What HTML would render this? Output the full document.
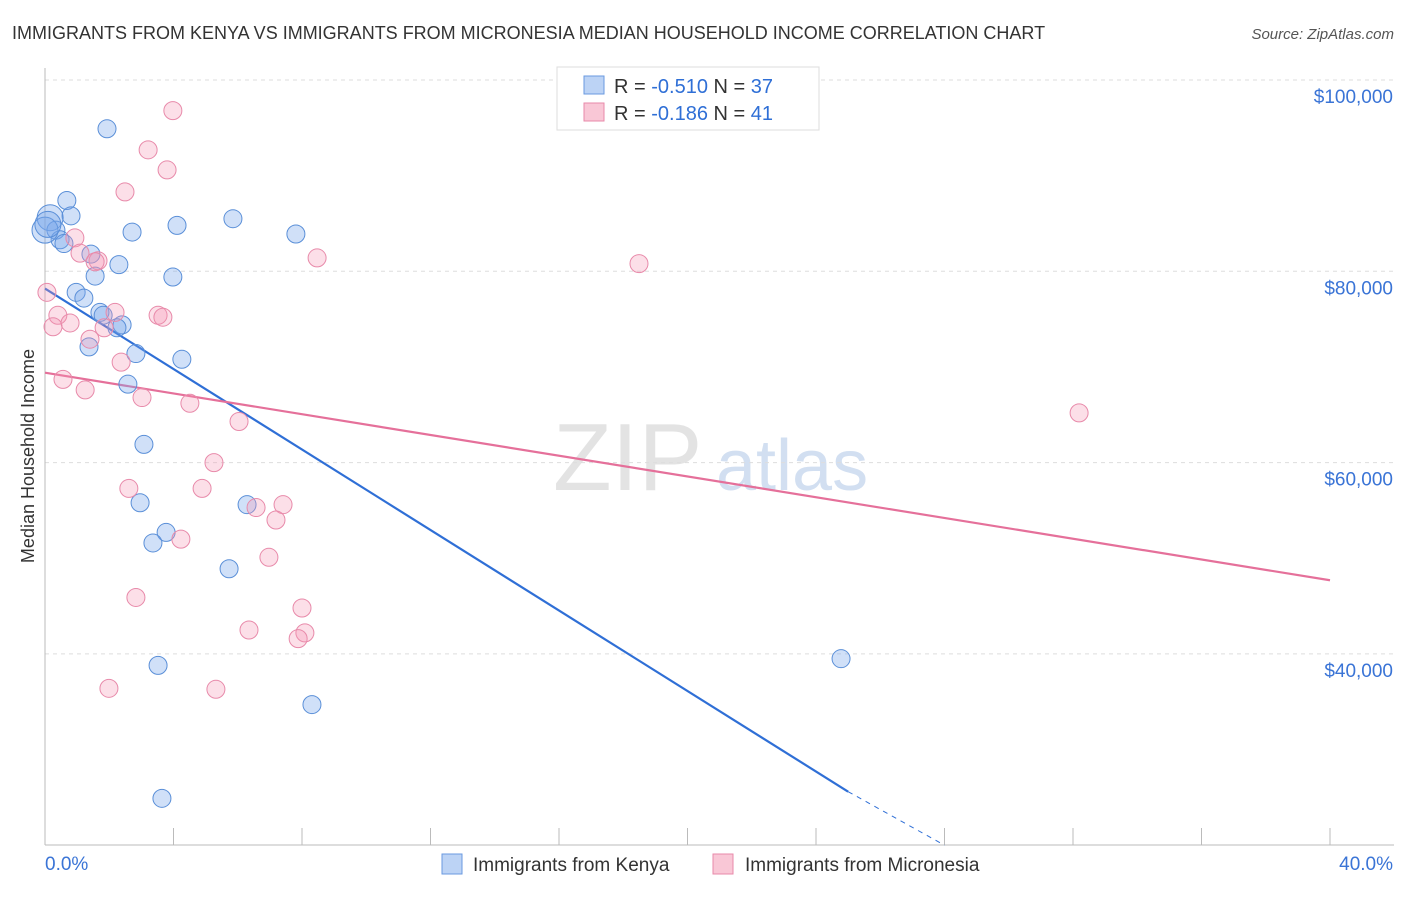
<!DOCTYPE html>
<html><head><meta charset="utf-8"><style>
body{margin:0;background:#fff;font-family:"Liberation Sans",sans-serif}
svg text{font-family:"Liberation Sans",sans-serif}
</style></head><body>
<svg id="chart" width="1406" height="892" xmlns="http://www.w3.org/2000/svg">
<text x="12" y="39" font-size="18" fill="#333">IMMIGRANTS FROM KENYA VS IMMIGRANTS FROM MICRONESIA MEDIAN HOUSEHOLD INCOME CORRELATION CHART</text>
<text x="1394" y="39" font-size="15" fill="#555" text-anchor="end" font-style="italic">Source: ZipAtlas.com</text>
<text x="553" y="490" font-size="96" fill="#ddd" font-family="Liberation Serif" opacity="0.8">ZIP</text>
<text x="716" y="490" font-size="72" fill="#c8d8ee" opacity="0.8">atlas</text>
<text transform="translate(34,456) rotate(-90)" font-size="18" fill="#333" text-anchor="middle">Median Household Income</text>
<g id="grid"></g><g id="axes"></g><g id="lines"></g><g id="points"></g>
<g>
<rect x="557" y="67" width="262" height="63" fill="#fff" stroke="#ddd"/>
<rect x="584" y="76" width="20" height="18" fill="#bcd3f5" stroke="#6a9ae0"/>
<text x="614" y="93" font-size="20" fill="#333">R = <tspan fill="#2f6fd6">-0.510</tspan>   N = <tspan fill="#2f6fd6">37</tspan></text>
<rect x="584" y="103" width="20" height="18" fill="#f9c7d6" stroke="#e88aaa"/>
<text x="614" y="120" font-size="20" fill="#333">R =  <tspan fill="#2f6fd6">-0.186</tspan>   N =  <tspan fill="#2f6fd6">41</tspan></text>
</g>
<g>
<rect x="442" y="854" width="20" height="20" fill="#bcd3f5" stroke="#6a9ae0"/>
<text x="473" y="871" font-size="19" fill="#333">Immigrants from Kenya</text>
<rect x="713" y="854" width="20" height="20" fill="#f9c7d6" stroke="#e88aaa"/>
<text x="745" y="871" font-size="19" fill="#333">Immigrants from Micronesia</text>
</g>
</svg>
<script>
const yTicks=[40000,60000,80000,100000];
const yTickLabels=["$40,000","$60,000","$80,000","$100,000"];
const xTickLabels=["0.0%","40.0%"];
const kenyaX=[1.93,0.68,0.81,0.16,0.34,0.47,0.59,2.71,4.11,5.85,7.81,1.43,2.30,1.56,3.98,0.97,1.21,1.71,1.81,2.40,2.24,1.37,2.83,4.26,2.58,3.08,2.96,3.77,3.36,6.29,5.73,3.52,8.31,3.64,24.78,0.0,0.09];
const kenyaY=[94.9,87.4,85.8,85.6,84.3,83.3,82.9,84.1,84.8,85.5,83.9,81.8,80.7,79.5,79.4,77.8,77.2,75.7,75.4,74.4,74.1,72.1,71.4,70.8,68.2,61.9,55.8,52.7,51.6,55.6,48.9,38.8,34.7,24.9,39.5,84.3,84.9];
const micX=[3.98,3.21,3.80,2.49,0.93,1.09,1.65,1.56,8.47,18.49,0.06,0.40,0.25,0.78,2.18,1.84,3.52,3.67,1.40,2.37,0.56,1.25,3.02,4.51,6.04,5.26,2.61,4.89,6.57,7.41,7.19,4.23,6.97,2.83,8.00,6.35,8.09,7.88,1.99,5.32,32.19];
const micY=[96.8,92.7,90.6,88.3,83.5,81.9,81.1,81.0,81.4,80.8,77.8,75.4,74.2,74.6,75.7,74.1,75.4,75.2,72.9,70.5,68.7,67.6,66.8,66.2,64.3,60.0,57.3,57.3,55.3,55.6,54.0,52.0,50.1,45.9,44.8,42.5,42.2,41.6,36.4,36.3,65.2];
const kenyaTrend=[[0,78.2],[25.0,25.6]];
const kenyaTrendExt=[[25.0,25.6],[28.0,20.0]];
const micTrend=[[0,69.4],[40,47.7]];
const NS="http://www.w3.org/2000/svg";
const X=p=>45+p*(1285/40);
const Y=k=>80+(100-k)*(191.3/20);
function mk(t,a,parent){const e=document.createElementNS(NS,t);for(const k in a)e.setAttribute(k,a[k]);document.getElementById(parent).appendChild(e);return e;}
yTicks.forEach((v,i)=>{
 const g=mk('line',{x1:45,x2:1394,y1:Y(v/1000),y2:Y(v/1000),stroke:'#ddd','stroke-dasharray':'4,4'},'grid');
 
 
 const t=mk('text',{x:1393,y:Y(v/1000)+23,'font-size':19,fill:'#3a74d6','text-anchor':'end'},'axes');
 t.textContent=yTickLabels[i];
 
 
});
mk('line',{x1:45,x2:45,y1:68,y2:845,stroke:'#bbb'},'axes');
mk('line',{x1:45,x2:1394,y1:845,y2:845,stroke:'#bbb'},'axes');
for(let i=0;i<=10;i++){const l=mk('line',{x1:X(i*4),x2:X(i*4),y1:828,y2:845,stroke:'#bbb'},'axes');
 
 }
const xl0=mk('text',{x:45,y:870,'font-size':19,fill:'#3a74d6'},'axes');xl0.textContent=xTickLabels[0];


const xl1=mk('text',{x:1393,y:870,'font-size':19,fill:'#3a74d6','text-anchor':'end'},'axes');xl1.textContent=xTickLabels[1];


function line(pts,col,dash,name){const l=mk('line',{x1:X(pts[0][0]),y1:Y(pts[0][1]),x2:X(pts[1][0]),y2:Y(pts[1][1]),stroke:col,'stroke-width':dash?1:2.2,'stroke-dasharray':dash?'5,5':'none'},'lines');
 
 }
kenyaX.forEach((x,i)=>{const c=mk('circle',{cx:X(x),cy:Y(kenyaY[i]),r:(x<0.2&&kenyaY[i]>84)?13:9,fill:'rgba(120,165,235,0.35)',stroke:'#5a8fd8','stroke-width':1},'points');
 
 });
micX.forEach((x,i)=>{const c=mk('circle',{cx:X(x),cy:Y(micY[i]),r:9,fill:'rgba(245,150,180,0.3)',stroke:'#e88aaa','stroke-width':1},'points');
 
 });
line(kenyaTrend,'#2f6fd6',false,'kenya-trend-line');
line(kenyaTrendExt,'#2f6fd6',true,'kenya-trend-extension');
line(micTrend,'#e5709a',false,'micronesia-trend-line');
</script>
</body></html>
